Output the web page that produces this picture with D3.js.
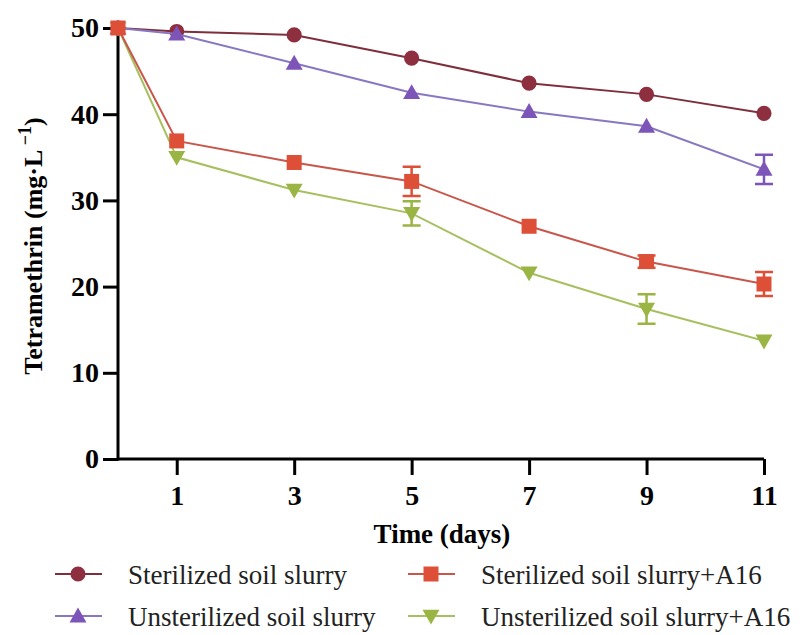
<!doctype html>
<html lang="en">
<head>
<meta charset="utf-8">
<title>Tetramethrin degradation</title>
<script src="https://d3js.org/d3.v7.min.js"></script>
</head>
<body style="margin:0;background:#fff">
<svg id="main" width="810" height="635"></svg>
<script>
// days sampled
let days = [0, 1, 3, 5, 7, 9, 11];
let xTicks = [1, 3, 5, 7, 9, 11];
let yTicks = [0, 10, 20, 30, 40, 50];

// series values (mg/L) and error (SD)
let sterilized      = [50, 49.6, 49.2, 46.5, 43.6, 42.3, 40.1];
let sterilizedErr   = [0, 0, 0, 0, 0, 0, 0];
let unsterilized    = [50, 49.3, 45.9, 42.5, 40.3, 38.6, 33.6];
let unsterilizedErr = [0, 0, 0, 0, 0, 0, 1.7];
let sterilA16       = [50, 36.9, 34.4, 32.2, 27.0, 22.9, 20.3];
let sterilA16Err    = [0, 0, 0, 1.7, 0, 0.7, 1.4];
let unsterA16       = [50, 35.0, 31.2, 28.5, 21.6, 17.4, 13.7];
let unsterA16Err    = [0, 0, 0, 1.4, 0, 1.7, 0];

let names = ['Sterilized soil slurry', 'Unsterilized soil slurry',
             'Sterilized soil slurry+A16', 'Unsterilized soil slurry+A16'];

let series = [
  {name: names[0], vals: sterilized,   err: sterilizedErr,   line: '#7e2f3b', fill: '#8e2f3f', shape: 'circle'},
  {name: names[1], vals: unsterilized, err: unsterilizedErr, line: '#8878c2', fill: '#7d55b8', shape: 'up'},
  {name: names[3], vals: unsterA16,    err: unsterA16Err,    line: '#a6c060', fill: '#9ab544', shape: 'down'},
  {name: names[2], vals: sterilA16,    err: sterilA16Err,    line: '#c8564a', fill: '#de4f37', shape: 'square'}
];

const FONT = "'Liberation Serif'";

let svg = d3.select('#main');
let x = d3.scaleLinear().domain([0, 11]).range([118, 764]);
let y = d3.scaleLinear().domain([0, 50]).range([459, 28]);

function symbolPath(shape) {
  if (shape == 'circle') return d3.symbol(d3.symbolCircle, 180)();
  if (shape == 'square') return d3.symbol(d3.symbolSquare, 225)();
  // triangles
  let s = 8.5;
  if (shape == 'up') return `M0,${-s} L${s},${s*0.75} L${-s},${s*0.75}Z`;
  return `M0,${s} L${s},${-s*0.75} L${-s},${-s*0.75}Z`;
}

function styleAxis(g) {
  g.attr('font-family', null).attr('font-size', null);
  g.selectAll('path, line').attr('stroke', '#000').attr('stroke-width', 3);
  g.selectAll('text').style('font-family', FONT).style('font-weight', 'bold')
    .style('font-size', '28px').attr('fill', '#000');
}

// axes
svg.append('g')
  .attr('transform', 'translate(0,459)')
  .call(d3.axisBottom(x).tickValues(xTicks).tickSize(16).tickPadding(10).tickSizeOuter(0))
  .call(g => g.select('.domain').attr('d', 'M117,0H' + x(11)))
  .call(styleAxis);

svg.append('g')
  .attr('transform', 'translate(118,0)')
  .call(d3.axisLeft(y).tickValues(yTicks).tickSize(15).tickPadding(4).tickSizeOuter(0))
  .call(g => g.select('.domain').attr('d', 'M0,' + y(50) + 'V' + (y(0) + 1.5)))
  .call(styleAxis);

// axis titles
svg.append('text')
  .attr('x', 442).attr('y', 543).attr('text-anchor', 'middle')
  .style('font-family', FONT).style('font-weight', 'bold').style('font-size', '27px')
  .text('Time (days)');

let yt = svg.append('text')
  .attr('transform', 'translate(42,246) rotate(-90)')
  .attr('text-anchor', 'middle')
  .style('font-family', FONT).style('font-weight', 'bold').style('font-size', '26px');
yt.append('tspan').text('Tetramethrin (mg·L');
yt.append('tspan').attr('dy', -11).style('font-size', '18px').text(' \u22121');
yt.append('tspan').attr('dy', 11).text(')');

// lines, error bars, markers
let line = d3.line().x((d, i) => x(days[i])).y(d => y(d));

series.forEach(s => {
  let g = svg.append('g');
  g.append('path').attr('d', line(s.vals)).attr('fill', 'none')
    .attr('stroke', s.line).attr('stroke-width', 2);
  s.vals.forEach((v, i) => {
    if (s.err[i] > 0) {
      let x0 = x(days[i]);
      g.append('path')
        .attr('d', `M${x0},${y(v + s.err[i])}V${y(v - s.err[i])}M${x0 - 9},${y(v + s.err[i])}h18M${x0 - 9},${y(v - s.err[i])}h18`)
        .attr('stroke', s.fill).attr('stroke-width', 2.5).attr('fill', 'none');
    }
  });
  g.selectAll('.m').data(s.vals).join('path')
    .attr('transform', (d, i) => `translate(${x(days[i])},${y(d)})`)
    .attr('d', symbolPath(s.shape))
    .attr('fill', s.fill);
});

// legend
let legendItems = [
  {s: series[0], lx: 55, ly: 574},
  {s: series[3], lx: 408, ly: 574},
  {s: series[1], lx: 55, ly: 616},
  {s: series[2], lx: 408, ly: 616}
];
let lg = svg.append('g');
legendItems.forEach(it => {
  lg.append('line').attr('x1', it.lx).attr('x2', it.lx + 47)
    .attr('y1', it.ly).attr('y2', it.ly)
    .attr('stroke', it.s.line).attr('stroke-width', 2);
  lg.append('path').attr('transform', `translate(${it.lx + 23},${it.ly})`)
    .attr('d', symbolPath(it.s.shape)).attr('fill', it.s.fill);
  lg.append('text').attr('x', it.lx + 73).attr('y', it.ly + 10)
    .style('font-family', FONT).style('font-size', '27px').attr('fill', '#222')
    .text(it.s.name);
});
</script>
</body>
</html>
